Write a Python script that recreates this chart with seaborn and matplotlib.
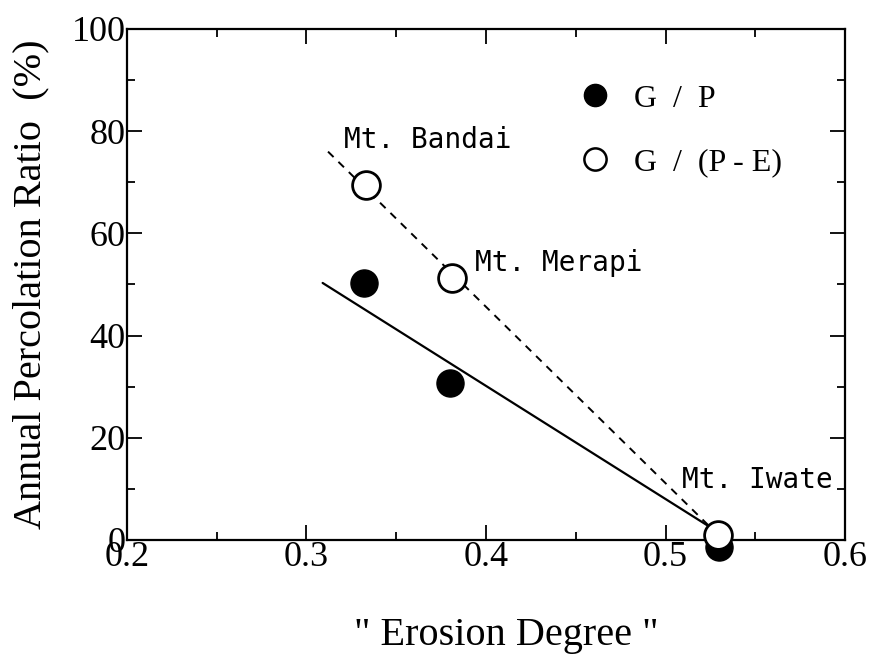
import matplotlib
matplotlib.use("Agg")
import matplotlib.pyplot as plt
from matplotlib.lines import Line2D
from matplotlib.ticker import MultipleLocator
import seaborn as sns
import pandas as pd

# ---- data ----
sites = ["Mt. Bandai", "Mt. Merapi", "Mt. Iwate"]
erosion_degree = [0.332, 0.380, 0.530]
ratio_gp = [50.3, 30.7, -1.4]        # G / P (filled)
erosion_degree_open = [0.333, 0.381, 0.529]
ratio_gpe = [69.5, 51.3, 1.0]        # G / (P - E) (open)

# fitted lines (end points)
fit_gp_x = [0.309, 0.529]
fit_gp_y = [50.3, 1.6]
fit_gpe_x = [0.312, 0.527]
fit_gpe_y = [76.0, 1.8]

label_text = ["Mt. Bandai", "Mt. Merapi", "Mt. Iwate"]
label_x = [0.321, 0.394, 0.509]
label_y = [78.3, 54.2, 11.7]

legend_labels = ["G  /  P", "G  /  (P - E)"]

sns.set_theme(style="white")
plt.rcParams["font.family"] = ["Liberation Serif", "DejaVu Serif"]
plt.rcParams["text.color"] = "black"
plt.rcParams["axes.labelcolor"] = "black"

fig = plt.figure(figsize=(8.69, 6.57), dpi=100)
ax = fig.add_axes([0.1461, 0.1781, 0.9724 - 0.1461, 0.9559 - 0.1781])

df_gp = pd.DataFrame({"x": fit_gp_x, "y": fit_gp_y})
df_gpe = pd.DataFrame({"x": fit_gpe_x, "y": fit_gpe_y})
sns.lineplot(data=df_gp, x="x", y="y", ax=ax, color="black", lw=1.6,
             zorder=2, sort=False)
sns.lineplot(data=df_gpe, x="x", y="y", ax=ax, color="black", lw=1.4,
             zorder=2, sort=False, dashes=False)
ax.lines[-1].set_linestyle((0, (4, 3.5)))

pts_gp = pd.DataFrame({"x": erosion_degree, "y": ratio_gp})
pts_gpe = pd.DataFrame({"x": erosion_degree_open, "y": ratio_gpe})
sns.scatterplot(data=pts_gp, x="x", y="y", ax=ax, s=380, color="black",
                edgecolor="black", linewidth=1.0, zorder=3, clip_on=False)
sns.scatterplot(data=pts_gpe, x="x", y="y", ax=ax, s=400, color="white",
                edgecolor="black", linewidth=2.0, zorder=4, clip_on=False)

for t, x, y in zip(label_text, label_x, label_y):
    ax.text(x, y, t, fontsize=20, family=["DejaVu Sans Mono"],
            ha="left", va="center", color="black")

ax.set_xlim(0.2, 0.6)
ax.set_ylim(0, 100)
ax.xaxis.set_major_locator(MultipleLocator(0.1))
ax.xaxis.set_minor_locator(MultipleLocator(0.05))
ax.yaxis.set_major_locator(MultipleLocator(20))
ax.yaxis.set_minor_locator(MultipleLocator(10))
ax.set_xticklabels([f"{v:.1f}" for v in ax.get_xticks()])
ax.tick_params(which="both", direction="in", top=True, right=True,
               bottom=True, left=True, color="black", width=1.3,
               labelsize=26, labelcolor="black")
ax.tick_params(which="major", length=11, pad=1)
ax.tick_params(which="minor", length=6)
for sp in ax.spines.values():
    sp.set_color("black")
    sp.set_linewidth(1.6)

ax.set_xlabel('" Erosion Degree "', fontsize=29, color="black", labelpad=31)
ax.xaxis.label.set_x(0.528)
ax.set_ylabel("Annual Percolation Ratio  (%)", fontsize=29, color="black",
              labelpad=16)

handles = [
    Line2D([], [], marker="o", ls="none", markersize=16, markerfacecolor="black",
           markeredgecolor="black"),
    Line2D([], [], marker="o", ls="none", markersize=16, markerfacecolor="white",
           markeredgecolor="black", markeredgewidth=1.8),
]
ax.legend(handles, legend_labels, loc="upper left", bbox_to_anchor=(0.600, 0.917),
          frameon=False, fontsize=23, handlelength=1.5, handletextpad=0.5,
          labelspacing=1.08, borderaxespad=0, labelcolor="black")

fig.savefig("out.png", dpi=100, facecolor="white")
